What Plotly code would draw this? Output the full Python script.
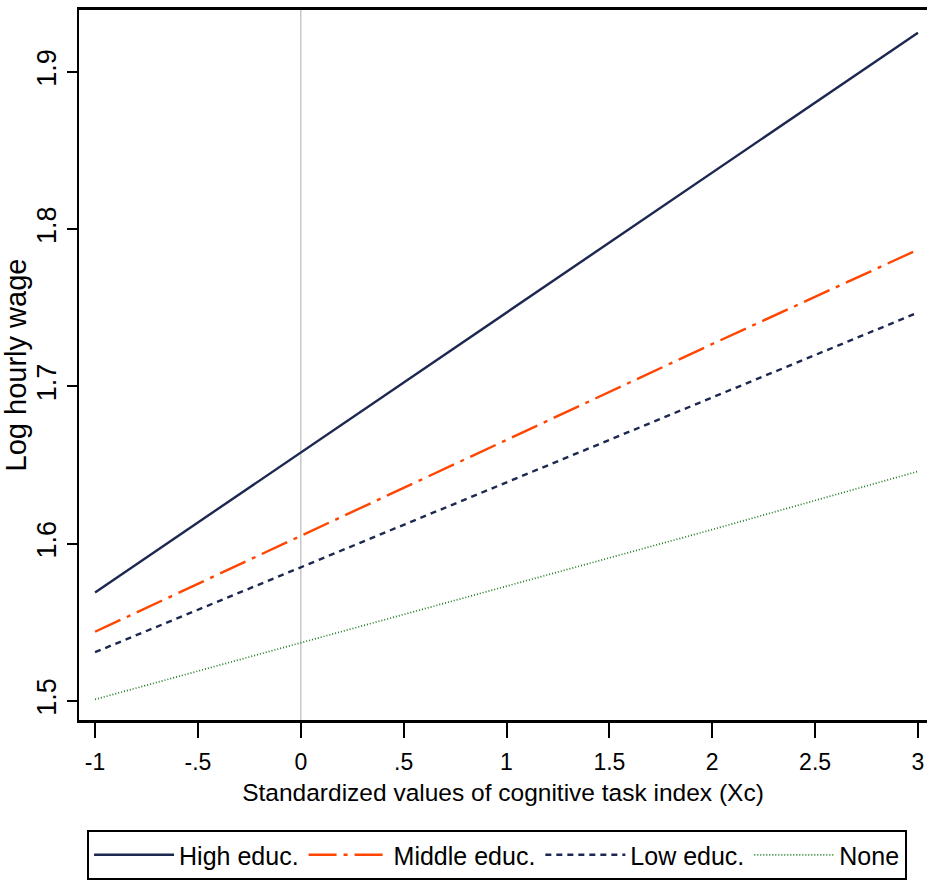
import plotly.graph_objects as go

x_vals = [-1, 0, 1, 2, 3]
high_educ = [1.569, 1.658, 1.747, 1.836, 1.925]
middle_educ = [1.544, 1.605, 1.666, 1.727, 1.787]
low_educ = [1.531, 1.585, 1.639, 1.693, 1.747]
none_educ = [1.501, 1.537, 1.573, 1.609, 1.646]

x_ticks = [-1, -0.5, 0, 0.5, 1, 1.5, 2, 2.5, 3]
x_tick_labels = ["-1", "-.5", "0", ".5", "1", "1.5", "2", "2.5", "3"]
y_ticks = [1.5, 1.6, 1.7, 1.8, 1.9]
y_tick_labels = ["1.5", "1.6", "1.7", "1.8", "1.9"]

NAVY = "#1c2850"
ORANGE = "#ff4500"
GREEN = "#1e7b1e"
FONT = "Liberation Sans, Arial, sans-serif"

fig = go.Figure()
fig.add_trace(go.Scatter(x=x_vals, y=high_educ, mode="lines", name="High educ.",
                         line=dict(color=NAVY, width=2.4, dash="solid")))
fig.add_trace(go.Scatter(x=x_vals, y=middle_educ, mode="lines", name="Middle educ.",
                         line=dict(color=ORANGE, width=2.4, dash="28px,7px,4px,7px")))
fig.add_trace(go.Scatter(x=x_vals, y=low_educ, mode="lines", name="Low educ.",
                         line=dict(color=NAVY, width=2.4, dash="6px,5px")))
fig.add_trace(go.Scatter(x=x_vals, y=none_educ, mode="lines", name="None",
                         line=dict(color=GREEN, width=1.7, dash="1px,2px")))

fig.add_vline(x=0, line=dict(color="#c8c8c8", width=1.5), layer="below")

fig.update_layout(
    width=927, height=889,
    margin=dict(l=79, r=0, t=10, b=169, autoexpand=False),
    paper_bgcolor="white", plot_bgcolor="white",
    font=dict(family=FONT, size=24, color="black"),
    showlegend=True,
    legend=dict(orientation="h", x=0.0095, xanchor="left", y=-0.155, yanchor="top",
                bordercolor="black", borderwidth=2, font=dict(size=25),
                itemwidth=80, itemclick=False, traceorder="normal"),
)
fig.update_xaxes(range=[-1.078, 3.044], tickvals=x_ticks, ticktext=x_tick_labels,
                 tickfont=dict(size=23), ticklabelstandoff=5,
                 showgrid=False, zeroline=False, showline=True, linecolor="black",
                 linewidth=2.5, mirror=True, ticks="outside", ticklen=15, tickwidth=2,
                 tickcolor="black",
                 title=dict(text="Standardized values of cognitive task index (Xc)",
                            standoff=10, font=dict(size=24.5)))
fig.update_yaxes(range=[1.4879, 1.9394], tickvals=y_ticks, ticktext=y_tick_labels,
                 tickangle=-90, tickfont=dict(size=27),
                 showgrid=False, zeroline=False, showline=True,
                 linecolor="black", linewidth=2, mirror=True, ticks="outside",
                 ticklen=10, tickwidth=2, tickcolor="black",
                 title=dict(text="Log hourly wage", standoff=10, font=dict(size=29)))

fig.write_html("out.html")
